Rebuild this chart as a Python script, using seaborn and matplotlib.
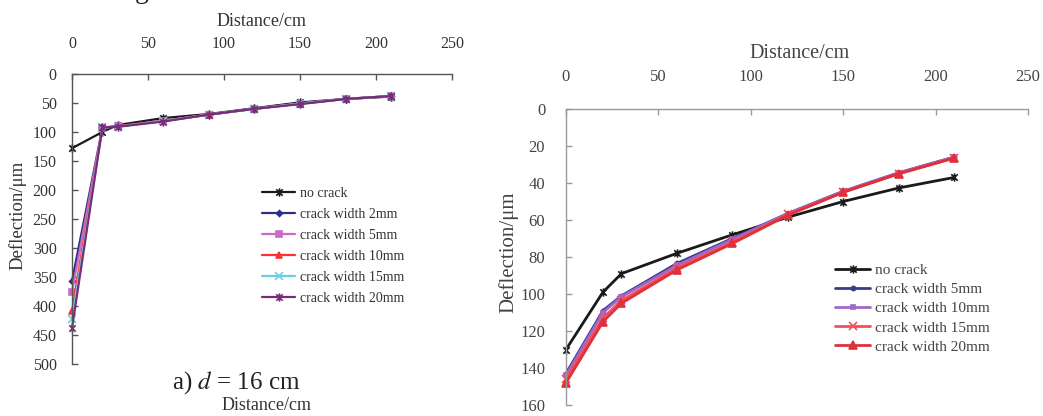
import matplotlib
matplotlib.use("Agg")
import matplotlib.pyplot as plt
from matplotlib.path import Path
import seaborn as sns

# Measuring points along the slab (cm)
distance = [0, 20, 30, 60, 90, 120, 150, 180, 210]

# a) d = 16 cm
labels_a = ["no crack", "crack width 2mm", "crack width 5mm",
            "crack width 10mm", "crack width 15mm", "crack width 20mm"]
no_crack_a = [128, 100, 88, 76, 69, 59, 49, 43, 39]
crack_2mm_a = [357, 93, 90, 81, 70, 60, 51, 43, 38]
crack_5mm_a = [376, 93, 90, 81, 70, 60, 51, 43, 38]
crack_10mm_a = [409, 92, 90, 81, 70, 60, 51, 43, 38]
crack_15mm_a = [423, 92, 91, 81, 70, 60, 51, 43, 38]
crack_20mm_a = [438, 92, 91, 82, 70, 60, 52, 43, 38]

# b) second slab thickness
labels_b = ["no crack", "crack width 5mm", "crack width 10mm",
            "crack width 15mm", "crack width 20mm"]
no_crack_b = [130, 99, 89, 78, 68, 58.5, 50, 42.7, 37]
crack_5mm_b = [143, 109, 101, 83.5, 70, 56.5, 44.5, 34.5, 26]
crack_10mm_b = [144, 110, 101.5, 84.5, 70.5, 56.5, 44.5, 34.5, 26]
crack_15mm_b = [146, 113, 103.5, 86, 72, 57, 45, 35, 26.5]
crack_20mm_b = [148, 115, 105, 87, 72.7, 57.4, 45, 35, 26.5]

x_ticks = [0, 50, 100, 150, 200, 250]

sns.set_style("ticks")
plt.rcParams["font.family"] = ["Liberation Serif", "DejaVu Serif"]
plt.rcParams["mathtext.fontset"] = "stix"

# Excel-style star marker: an X with a vertical bar
star = Path([(-1, -1), (1, 1), (-1, 1), (1, -1), (0, -1.3), (0, 1.3)],
            [Path.MOVETO, Path.LINETO, Path.MOVETO, Path.LINETO,
             Path.MOVETO, Path.LINETO])

W, H = 1043, 416
fig = plt.figure(figsize=(W / 100, H / 100), dpi=100)
ax1 = fig.add_axes([72 / W, 1 - 364 / H, 380 / W, 290 / H])
ax2 = fig.add_axes([566 / W, 1 - 405 / H, 462 / W, 296 / H])


def draw(ax, series, labels, styles, lw):
    for vals, lab, (col, mk, ms) in zip(series, labels, styles):
        sns.lineplot(x=distance, y=vals, ax=ax, color=col, marker=mk,
                     markersize=ms, markeredgecolor=col, markeredgewidth=1.2,
                     linewidth=lw, label=lab, clip_on=False, sort=False)


def style_axis(ax, ymax, ystep, spine_col, txt_col, fs, xpad, ypad):
    ax.set_xlim(0, 250)
    ax.set_ylim(ymax, 0)
    ax.set_xticks(x_ticks)
    ax.set_yticks(list(range(0, ymax + 1, ystep)))
    ax.xaxis.tick_top()
    ax.xaxis.set_label_position("top")
    for s in ("bottom", "right"):
        ax.spines[s].set_visible(False)
    for s in ("top", "left"):
        ax.spines[s].set_color(spine_col)
        ax.spines[s].set_linewidth(1.0)
    ax.tick_params(axis="x", direction="in", length=4, width=1,
                   color=spine_col, labelsize=fs, labelcolor=txt_col, pad=xpad)
    ax.tick_params(axis="y", direction="in", length=4, width=1,
                   color=spine_col, labelsize=fs, labelcolor=txt_col, pad=ypad)


draw(ax1,
     [no_crack_a, crack_2mm_a, crack_5mm_a, crack_10mm_a, crack_15mm_a, crack_20mm_a],
     labels_a,
     [("#1a1a1a", star, 6), ("#2b2f85", "D", 3), ("#c86ac8", "s", 4.5),
      ("#ff3030", "^", 4.5), ("#6ccfe0", "x", 5.5), ("#7a2a7a", star, 6)],
     1.6)
style_axis(ax1, 500, 50, "#555555", "#333333", 11.5, 16, 11)
ax1.set_xlabel("Distance/cm", fontsize=13, color="#333333", va="center")
ax1.xaxis.set_label_coords(0.5, 1 + (74 - 21) / 290)
ax1.set_ylabel("Deflection/μm", fontsize=13.5, color="#333333", va="center")
ax1.yaxis.set_label_coords((18 - 72) / 380, 1 - (215 - 74) / 290)
ax1.legend(frameon=False, loc="center left", bbox_to_anchor=(262 / W, 1 - 246 / H),
           bbox_transform=fig.transFigure, fontsize=10, handlelength=2.4,
           handletextpad=0.3, labelspacing=0.58, borderpad=0, borderaxespad=0,
           labelcolor="#333333")

draw(ax2,
     [no_crack_b, crack_5mm_b, crack_10mm_b, crack_15mm_b, crack_20mm_b],
     labels_b,
     [("#1a1a1a", star, 6), ("#3a3c8c", "o", 3), ("#a266c8", "s", 3),
      ("#f0505a", "x", 6), ("#e0303c", "^", 6)],
     2.0)
style_axis(ax2, 160, 20, "#9a9a9a", "#444444", 12, 17, 15)
ax2.set_xlabel("Distance/cm", fontsize=14.5, color="#444444", va="center")
ax2.xaxis.set_label_coords((800 - 566) / 462, 1 + (109 - 53) / 296)
ax2.set_ylabel("Deflection/μm", fontsize=15, color="#444444", va="center")
ax2.yaxis.set_label_coords((508 - 566) / 462, 1 - (252 - 109) / 296)
ax2.legend(frameon=False, loc="center left", bbox_to_anchor=(835 / W, 1 - 308.5 / H),
           bbox_transform=fig.transFigure, fontsize=11, handlelength=2.3,
           handletextpad=0.3, labelspacing=0.36, borderpad=0, borderaxespad=0,
           labelcolor="#444444")

# Panel caption and the axis title of the panel below it
fig.text(236 / W, 1 - 383 / H, r"a) $d$ = 16 cm", ha="center", va="center",
         fontsize=18, color="#222222")
fig.text(267 / W, 1 - 405 / H, "Distance/cm", ha="center", va="center",
         fontsize=13, color="#333333")
# Tail of the figure heading running into the top edge
fig.text(142 / W, 1 + 2 / H, "g", ha="center", va="baseline", fontsize=20,
         color="#222222")

fig.savefig("out.png", dpi=100)
